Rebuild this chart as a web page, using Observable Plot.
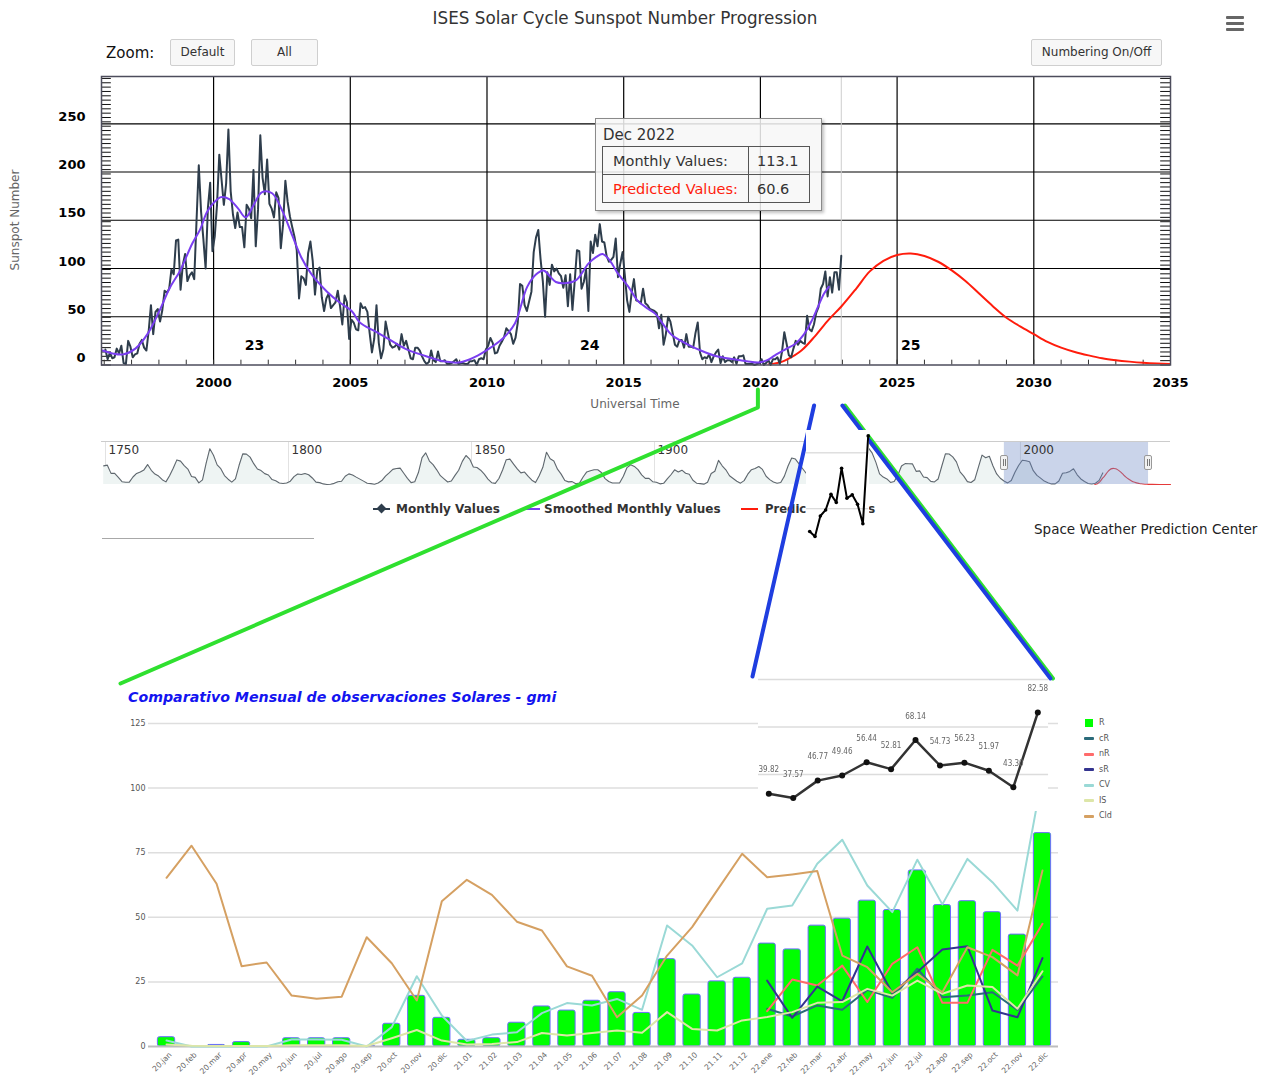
<!DOCTYPE html>
<html>
<head>
<meta charset="utf-8">
<script src="https://cdn.jsdelivr.net/npm/d3@7"></script>
<script src="https://cdn.jsdelivr.net/npm/@observablehq/plot@0.6"></script>
<style>
  body { margin: 0; background: #fff; }
  #page { position: relative; width: 1275px; height: 1077px; overflow: hidden; background: #fff;
          font-family: "DejaVu Sans", "Lucida Grande", sans-serif; }
  #page > div { position: absolute; }
  .btn { background: #f7f7f7; border: 1px solid #cfcfcf; border-radius: 2px; box-sizing: border-box;
         font-size: 12px; color: #333; text-align: center; line-height: 24px; }
  svg { overflow: visible; }
</style>
</head>
<body>
<div id="page"></div>
<script>
// ---------------- Sunspot data ----------------
// Monthly mean total sunspot number, Jan 1996 .. Dec 2022 (one row per year)
const monthlyStart = 1996;
const monthlySSN = [
  16, 6, 13, 7, 8, 17, 12, 20, 2, 1, 25, 19,
  8, 11, 12, 22, 26, 18, 15, 35, 62, 32, 55, 58,
  45, 57, 77, 75, 79, 99, 94, 129, 130, 78, 104, 115,
  87, 93, 96, 89, 149, 207, 159, 131, 100, 163, 189, 118,
  133, 166, 218, 192, 166, 188, 244, 180, 156, 142, 158, 143,
  143, 122, 166, 162, 152, 202, 123, 161, 238, 194, 177, 213,
  167, 162, 153, 179, 173, 121, 146, 191, 169, 154, 143, 133,
  119, 69, 92, 90, 83, 116, 128, 108, 73, 98, 101, 70,
  56, 69, 74, 59, 62, 65, 77, 61, 42, 72, 65, 27,
  47, 44, 37, 36, 64, 59, 60, 55, 33, 13, 27, 62,
  23, 7, 16, 45, 33, 21, 18, 19, 22, 16, 32, 20,
  25, 16, 7, 6, 18, 18, 15, 9, 4, 1, 3, 15,
  5, 3, 14, 4, 4, 5, 1, 1, 2, 4, 6, 1,
  2, 2, 1, 1, 4, 4, 5, 0, 6, 7, 6, 16,
  20, 28, 23, 12, 13, 20, 24, 29, 38, 35, 32, 22,
  28, 44, 84, 82, 62, 56, 66, 76, 117, 132, 140, 110,
  87, 50, 96, 83, 104, 97, 100, 95, 92, 80, 93, 61,
  94, 57, 87, 119, 118, 79, 86, 99, 56, 128, 116, 135,
  123, 146, 128, 127, 113, 107, 109, 112, 131, 91, 105, 117,
  93, 67, 55, 75, 89, 67, 66, 64, 79, 64, 62, 58,
  57, 56, 54, 38, 52, 21, 32, 50, 45, 33, 21, 19,
  26, 26, 18, 32, 19, 19, 18, 33, 44, 13, 6, 8,
  7, 11, 3, 9, 13, 16, 2, 9, 3, 5, 5, 3,
  8, 1, 9, 9, 10, 1, 1, 1, 1, 0, 1, 2,
  6, 0, 2, 5, 0, 6, 6, 8, 1, 14, 34, 22,
  10, 8, 17, 25, 21, 25, 23, 22, 51, 37, 35, 42,
  54, 60, 79, 84, 97, 71, 91, 75, 96, 96, 78, 113.1
];

// 13-month smoothed sunspot number [decimal year, value]
const smoothedSSN = [
  [1995.94, 15], [1996.3, 12], [1996.69, 11], [1997.14, 17], [1997.58, 32], [1998.0, 55],
  [1998.4, 80], [1998.78, 98], [1999.22, 126], [1999.5, 140], [1999.75, 158], [2000.0, 168],
  [2000.27, 174], [2000.57, 172], [2000.9, 162], [2001.17, 153], [2001.45, 165], [2001.76, 179],
  [2002.14, 178], [2002.51, 160], [2002.88, 134], [2003.2, 112], [2003.56, 95], [2004.15, 76],
  [2004.6, 65], [2005.05, 56], [2005.35, 44], [2005.9, 35], [2006.39, 27], [2007.0, 17],
  [2007.45, 12], [2007.89, 8], [2008.3, 4.5], [2008.63, 3], [2008.95, 2.5], [2009.38, 6],
  [2009.8, 12], [2010.13, 18], [2010.6, 28], [2011.02, 43], [2011.47, 81], [2011.8, 94],
  [2012.07, 98], [2012.3, 92], [2012.52, 86], [2012.9, 85], [2013.26, 88], [2013.71, 105],
  [2014.0, 112], [2014.23, 115], [2014.5, 108], [2014.76, 96], [2015.2, 80], [2015.5, 67],
  [2015.9, 58], [2016.16, 53], [2016.5, 40], [2016.76, 31], [2017.3, 22], [2017.82, 15],
  [2018.4, 9], [2019.02, 6], [2019.5, 4], [2019.93, 2.5], [2020.25, 5], [2020.53, 10],
  [2020.9, 16], [2021.28, 22], [2021.6, 32], [2021.88, 46], [2022.1, 60], [2022.33, 74],
  [2022.5, 81]
];

// Cycle 25 prediction [decimal year, value]
const predictedSSN = [
  [2020.3, 0.5], [2020.75, 3], [2021.0, 6], [2021.5, 15], [2022.0, 30], [2022.5, 47],
  [2022.96, 60.6], [2023.5, 79], [2024.0, 97], [2024.5, 108], [2025.0, 114], [2025.5, 115.5],
  [2026.0, 113], [2026.5, 107], [2027.0, 98], [2027.5, 87], [2028.0, 74], [2028.5, 61],
  [2029.0, 49], [2029.5, 40], [2030.0, 32], [2030.5, 24], [2031.0, 18], [2031.5, 13.5],
  [2032.0, 10], [2032.5, 7], [2033.0, 5], [2033.5, 3.5], [2034.0, 2.3], [2034.5, 1.5],
  [2035.0, 1], [2036.0, 0.6], [2038.0, 0.3], [2041.0, 0.1]
];

// Yearly mean sunspot number 1749 .. 2022 (navigator overview)
const yearlyStart = 1749;
const yearlySSN = [
  134.0, 139.0, 79.8, 79.7, 51.2, 20.3, 16.0, 17.0, 54.0, 79.3, 90.0,
  104.8, 143.2, 102.0, 75.2, 60.7, 34.8, 19.0, 63.0, 116.3, 176.8,
  168.0, 136.0, 110.8, 58.0, 51.0, 11.7, 33.0, 154.2, 257.3, 209.8,
  141.3, 113.5, 64.2, 38.0, 17.0, 40.2, 138.2, 220.0, 218.2, 196.8,
  149.8, 111.0, 100.0, 78.2, 68.3, 35.5, 26.7, 10.7, 6.8, 11.3,
  24.2, 56.7, 75.0, 71.8, 79.2, 70.3, 46.8, 16.8, 13.5, 4.2,
  0.0, 2.3, 8.3, 20.3, 23.2, 59.0, 76.3, 68.3, 52.9, 38.5,
  24.2, 9.2, 6.3, 2.2, 11.4, 28.2, 59.9, 83.0, 108.5, 115.2,
  117.4, 80.8, 44.3, 13.4, 19.5, 85.8, 192.7, 227.3, 168.7, 143.0,
  105.5, 63.3, 40.3, 18.1, 25.1, 65.8, 102.7, 166.3, 208.3, 182.5,
  126.3, 122.0, 102.7, 74.1, 39.0, 12.7, 8.2, 43.4, 104.4, 178.3,
  182.2, 146.6, 112.1, 83.5, 89.2, 57.8, 30.7, 13.9, 62.8, 123.6,
  232.0, 185.3, 169.2, 110.1, 74.5, 28.3, 18.9, 20.7, 5.7, 10.0,
  53.7, 90.5, 99.0, 106.1, 105.8, 86.3, 42.4, 21.8, 11.2, 10.4,
  11.8, 59.5, 121.7, 142.0, 130.0, 106.6, 69.4, 43.8, 44.4, 20.2,
  15.7, 4.6, 8.5, 40.8, 70.1, 105.5, 90.1, 102.8, 80.9, 73.2,
  30.9, 9.5, 6.0, 2.4, 16.1, 79.0, 95.0, 173.6, 134.6, 105.7,
  62.7, 43.5, 23.7, 9.7, 27.9, 74.0, 106.5, 114.7, 129.7, 108.2,
  59.4, 35.1, 18.6, 9.2, 14.6, 60.2, 132.8, 190.6, 182.6, 148.0,
  113.0, 79.2, 50.8, 27.1, 16.1, 55.3, 154.3, 214.7, 193.0, 190.7,
  118.9, 98.3, 45.0, 20.1, 6.6, 54.2, 200.7, 269.3, 261.7, 225.1,
  159.0, 76.4, 53.4, 39.9, 15.0, 22.0, 66.8, 132.9, 150.0, 149.4,
  148.0, 94.4, 97.6, 54.1, 49.2, 22.5, 18.4, 39.3, 131.0, 220.1,
  218.9, 198.9, 162.4, 91.0, 60.5, 20.6, 14.8, 33.9, 123.0, 211.1,
  191.8, 203.3, 133.0, 76.1, 44.9, 25.1, 11.6, 28.9, 88.3, 136.3,
  173.9, 170.4, 163.6, 99.3, 65.3, 45.8, 24.7, 12.6, 4.2, 4.8,
  24.9, 80.8, 84.5, 94.0, 113.3, 69.8, 39.8, 21.7, 7.0, 3.6,
  8.8, 29.6, 83.2
];

const topXTicks = [2000, 2005, 2010, 2015, 2020, 2025, 2030, 2035];
const topYTicks = [0, 50, 100, 150, 200, 250];
const cycleLabels = [
  {n: "23", year: 2001.5, v: 20},
  {n: "24", year: 2013.76, v: 20},
  {n: "25", year: 2025.5, v: 20}
];
const tooltipMonth = 2022.958;           // Dec 2022
const tooltipTitle = "Dec 2022";
const tooltipMonthly = 113.1;
const tooltipPredicted = 60.6;

const navGridYears = [1750, 1800, 1850, 1900, 1950, 2000];
const navLabelYears = [1750, 1800, 1850, 1900, 2000];
const navWindow = {from: 1995.6, to: 2035};

// ---------------- Monthly observation data (gmi) ----------------
const gmiMonths = [
  "20.jan", "20.feb", "20.mar", "20.apr", "20.may", "20.jun", "20.jul", "20.ago", "20.sep", "20.oct", "20.nov", "20.dic",
  "21.01", "21.02", "21.03", "21.04", "21.05", "21.06", "21.07", "21.08", "21.09", "21.10", "21.11", "21.12",
  "22.ene", "22.feb", "22.mar", "22.abr", "22.may", "22.jun", "22.jul", "22.ago", "22.sep", "22.oct", "22.nov", "22.dic"
];
const gmiR = [
  3.6, 0, 0.6, 1.7, 0, 3.2, 3.2, 3.2, 0.2, 8.8, 19.6, 11.1,
  2.6, 3.2, 9.2, 15.5, 13.9, 17.7, 21.0, 13.0, 33.8, 20.1, 25.2, 26.6,
  39.82, 37.57, 46.77, 49.46, 56.44, 52.81, 68.14, 54.73, 56.23, 51.97, 43.30, 82.58
];
const gmiCV = [
  2.3, 0, 0, 0, 0, 2.7, 2.7, 2.6, 0, 7.5, 27.2, 12.0,
  2.1, 4.6, 5.5, 12.9, 16.8, 15.9, 18.4, 14.2, 46.8, 39.1, 26.8, 32.2,
  53.3, 54.6, 70.7, 80.0, 62.3, 52.0, 72.3, 55.0, 72.6, 63.6, 52.6, 105
];
const gmiIS = [
  0.8, 0.3, 0.2, 0.2, 0.2, 0.5, 0.5, 0.5, 0.2, 3.2, 6.4, 2.3,
  0.8, 1.0, 1.7, 5.2, 4.3, 5.2, 6.2, 5.3, 13.3, 6.8, 6.2, 10.1,
  11.4, 13.3, 16.9, 17.2, 22.3, 19.7, 25.5, 20.4, 23.6, 23.0, 14.6, 29.1
];
const gmiCld = [
  65.3, 77.7, 63.0, 31.1, 32.5, 19.7, 18.5, 19.3, 42.3, 32.2, 17.8, 56.2,
  64.5, 58.7, 48.3, 44.9, 31.0, 27.4, 11.3, 19.7, 35.2, 46.2, 60.4, 74.6,
  65.5, 66.6, 67.9, 35.2, 30.7, 21.0, 28.1, 21.0, 38.4, 34.6, 27.5, 68.1
];
// cR, nR, sR are only recorded from 22.ene on
const gmiSplitStart = 24;
const gmiCR2022 = [14.6, 11.6, 15.9, 14.2, 21.9, 18.8, 30.1, 19.1, 19.7, 21.0, 14.2, 27.1];
const gmiNR2022 = [13.7, 25.9, 23.6, 31.3, 17.2, 32.0, 38.4, 16.9, 16.9, 37.4, 31.3, 47.5];
const gmiSR2022 = [25.5, 11.1, 23.2, 17.5, 38.7, 20.6, 28.8, 37.5, 38.8, 13.9, 11.3, 34.2];
const gmiYTicks = [0, 25, 50, 75, 100, 125];
const gmiSeries = [
  {name: "R", color: "#00ff00", swatch: "square"},
  {name: "cR", color: "#2b6b7a"},
  {name: "nR", color: "#ff6b6b"},
  {name: "sR", color: "#34348f"},
  {name: "CV", color: "#9ad9d6"},
  {name: "IS", color: "#dde6a8"},
  {name: "Cld", color: "#d5a062"}
];
const colorOf = Object.fromEntries(gmiSeries.map(s => [s.name, s.color]));

// ---------------- helpers ----------------
const UI = '"DejaVu Sans", "Lucida Grande", sans-serif';
const page = document.getElementById("page");

function put(node, left, top, extra = "") {
  const wrap = document.createElement("div");
  wrap.style.cssText = `left:${left}px;top:${top}px;${extra}`;
  wrap.appendChild(node);
  page.appendChild(wrap);
  return wrap;
}
function label(text, {x, y, size = 12, weight = "normal", color = "#333", anchor = "start", family = UI, fstyle = "normal"}) {
  const d = document.createElement("div");
  d.textContent = text;
  d.style.cssText = `white-space:nowrap;font-family:${family};font-size:${size}px;font-weight:${weight};` +
    `font-style:${fstyle};color:${color};line-height:${Math.round(size * 1.2)}px;top:${y - Math.round(size * 1.2) / 2}px;`;
  if (anchor === "middle") { d.style.left = x + "px"; d.style.transform = "translateX(-50%)"; }
  else if (anchor === "end") { d.style.right = (1275 - x) + "px"; }
  else d.style.left = x + "px";
  page.appendChild(d);
  return d;
}
function box(left, top, width, height, css) {
  const d = document.createElement("div");
  d.style.cssText = `left:${left}px;top:${top}px;width:${width}px;height:${height}px;${css}`;
  page.appendChild(d);
  return d;
}
function button(text, left, width) {
  const b = box(left, 39, width, 27, "");
  b.className = "btn";
  b.textContent = text;
}

// ---------------- header ----------------
label("ISES Solar Cycle Sunspot Number Progression", {x: 625, y: 18, size: 16.8, anchor: "middle", color: "#333"});
[16, 22, 28].forEach(t => box(1226, t, 18, 3, "background:#666;border-radius:1px;"));
label("Zoom:", {x: 106, y: 53, size: 15, color: "#111"});
button("Default", 170, 65);
button("All", 251, 67);
button("Numbering On/Off", 1031, 131);

// ---------------- main sunspot chart ----------------
const monthlyRows = monthlySSN.map((v, i) => ({t: monthlyStart + (i + 0.5) / 12, v}));
const smoothRows = smoothedSSN.map(([t, v]) => ({t, v}));
const predRows = predictedSSN.map(([t, v]) => ({t, v}));
const topDomain = [1995.9, 2035];
const minorStep = 4.5;
const yMinor = d3.range(0, 299, minorStep);
const xMinor = d3.range(1996, 2035);

const topPlot = Plot.plot({
  width: 1275, height: 420,
  marginLeft: 101, marginRight: 105, marginTop: 76, marginBottom: 55.5,
  x: {domain: topDomain, axis: null},
  y: {domain: [0, 299], axis: null},
  style: {background: "transparent", fontFamily: UI, overflow: "visible"},
  marks: [
    Plot.ruleX(topXTicks.filter(d => d < 2035), {stroke: "#000", strokeWidth: 1.2}),
    Plot.ruleY(topYTicks.filter(d => d > 0), {stroke: "#000", strokeWidth: 1.2}),
    Plot.ruleY(yMinor, {x1: topDomain[0], x2: topDomain[0] + 0.36, stroke: "#111"}),
    Plot.ruleY(yMinor, {x1: topDomain[1] - 0.36, x2: topDomain[1], stroke: "#111"}),
    Plot.ruleX(xMinor, {y1: 0, y2: 5, stroke: "#333"}),
    Plot.ruleX([tooltipMonth], {stroke: "#cdcdcd"}),
    Plot.line(predRows, {x: "t", y: "v", stroke: "#ff1c0c", strokeWidth: 2, curve: "catmull-rom", clip: true}),
    Plot.line(monthlyRows, {x: "t", y: "v", stroke: "#2e3d4c", strokeWidth: 2}),
    Plot.line(smoothRows, {x: "t", y: "v", stroke: "#7a3ef0", strokeWidth: 2, curve: "catmull-rom"}),
    Plot.frame({stroke: "#4d4d5c", strokeWidth: 1.5}),
    Plot.text(topXTicks, {x: d => d, y: 0, dy: 18, text: d => String(d), fontSize: 13, fontWeight: "bold", fill: "#000"}),
    Plot.text(topYTicks, {x: topDomain[0], y: d => d, dx: -16, dy: -7, textAnchor: "end", text: d => String(d), fontSize: 13, fontWeight: "bold", fill: "#000"}),
    Plot.text(cycleLabels, {x: "year", y: "v", text: "n", fontSize: 14, fontWeight: "bold", fill: "#000"})
  ]
});
put(topPlot, 0, 0);

label("Universal Time", {x: 635, y: 404, size: 12, anchor: "middle", color: "#666"});
const yTitle = label("Sunspot Number", {x: 15, y: 220, size: 12, anchor: "middle", color: "#666"});
yTitle.style.transform = "translateX(-50%) rotate(-90deg)";

// tooltip for Dec 2022
const tip = box(595, 118, 227, 93,
  "background:rgba(247,247,247,0.86);border:1px solid #8a8a8a;box-sizing:border-box;box-shadow:2px 2px 3px rgba(0,0,0,0.25);");
tip.innerHTML =
  `<div style="position:absolute;left:7px;top:7px;font-size:15px;color:#333;">${tooltipTitle}</div>
   <table style="position:absolute;left:6px;top:27px;border-collapse:collapse;font-size:14.5px;color:#333;">
     <tr><td style="border:1px solid #555;padding:3px 6px 3px 10px;width:129px;height:21px;">Monthly Values:</td>
         <td style="border:1px solid #555;padding:3px 8px;width:44px;">${tooltipMonthly}</td></tr>
     <tr><td style="border:1px solid #555;padding:3px 6px 3px 10px;height:21px;color:#ff1c0c;">Predicted Values:</td>
         <td style="border:1px solid #555;padding:3px 8px;">${tooltipPredicted}</td></tr>
   </table>`;

// ---------------- navigator ----------------
const navRows = yearlySSN.map((v, i) => ({t: yearlyStart + i + 0.5, v}));
const navTop = 309;
const navPlot = Plot.plot({
  width: 1275, height: 52,
  marginLeft: 101, marginRight: 105, marginTop: 5, marginBottom: 4,
  x: {domain: [1748.9, 2041], axis: null},
  y: {domain: [0, navTop], axis: null},
  style: {background: "transparent", fontFamily: UI, overflow: "visible"},
  marks: [
    Plot.ruleX(navGridYears, {stroke: "#e2e2e2"}),
    Plot.areaY(navRows, {x: "t", y: "v", fill: "#eef4f3"}),
    Plot.line(navRows, {x: "t", y: "v", stroke: "#5f676e", strokeWidth: 1.1}),
    Plot.line(predRows, {x: "t", y: "v", stroke: "#e53a3a", strokeWidth: 1.1, curve: "catmull-rom"}),
    Plot.rect([navWindow], {x1: "from", x2: "to", y1: 0, y2: navTop, fill: "#6685c2", fillOpacity: 0.35}),
    Plot.ruleY([navTop], {stroke: "#cccccc"}),
    Plot.text(navLabelYears, {x: d => d, y: navTop, dx: 3, dy: 9, text: d => String(d), textAnchor: "start", fontSize: 12, fill: "#333"})
  ]
});
put(navPlot, 0, 436);
const navX = navPlot.scale("x");
[navWindow.from, navWindow.to].forEach(yr => {
  const h = box(Math.round(navX.apply(yr)) - 4, 455, 8, 15,
    "background:#f2f2f2;border:1px solid #999;border-radius:2px;box-sizing:border-box;");
  h.innerHTML = `<div style="position:absolute;left:2px;top:3px;width:1px;height:7px;background:#777"></div>
                 <div style="position:absolute;left:4px;top:3px;width:1px;height:7px;background:#777"></div>`;
});

// ---------------- legend of the sunspot chart ----------------
box(373, 508, 17, 2, "background:#2e3d4c;");
box(378, 505, 7, 7, "background:#2e3d4c;transform:rotate(45deg);");
label("Monthly Values", {x: 396, y: 509, size: 12, weight: "bold", color: "#333"});
box(522, 508, 18, 2, "background:#7a3ef0;");
label("Smoothed Monthly Values", {x: 544, y: 509, size: 12, weight: "bold", color: "#333"});
box(741, 508, 17, 2, "background:#ff1c0c;");
label("Predicted Values", {x: 765, y: 509, size: 11.6, weight: "bold", color: "#333"});

label("Space Weather Prediction Center", {x: 1034, y: 529, size: 13.5, color: "#222"});
box(102, 538, 212, 1, "background:#a8a8a8;");

// ---------------- gmi monthly comparison chart ----------------
const gmiRows = gmiMonths.map((m, i) => ({i, m, R: gmiR[i], CV: gmiCV[i], IS: gmiIS[i], Cld: gmiCld[i]}));
const splitRows = (vals) => vals.map((v, k) => ({i: gmiSplitStart + k, v}));
const seriesLine = (rows, key, width = 2) =>
  Plot.line(rows, {x: "i", y: key, stroke: colorOf[key], strokeWidth: width});

const gmiPlot = Plot.plot({
  width: 1275, height: 397,
  marginLeft: 148, marginRight: 217, marginTop: 43, marginBottom: 31,
  x: {domain: [-0.72, 35.64], axis: null},
  y: {domain: [0, 125], axis: null},
  style: {background: "transparent", fontFamily: '"Lucida Grande", "DejaVu Sans", sans-serif', overflow: "visible"},
  marks: [
    Plot.ruleY(gmiYTicks.filter(d => d > 0), {stroke: "#dedede", strokeWidth: 1.5}),
    Plot.rect(gmiRows, {x1: d => d.i - 0.345, x2: d => d.i + 0.345, y1: 0, y2: "R",
      fill: colorOf.R, stroke: "#6b6bff", strokeWidth: 1, rx: 2}),
    Plot.ruleY([0], {stroke: "#bdbdbd", strokeWidth: 2}),
    Plot.line(splitRows(gmiCR2022), {x: "i", y: "v", stroke: colorOf.cR, strokeWidth: 2}),
    Plot.line(splitRows(gmiNR2022), {x: "i", y: "v", stroke: colorOf.nR, strokeWidth: 2}),
    Plot.line(splitRows(gmiSR2022), {x: "i", y: "v", stroke: colorOf.sR, strokeWidth: 2}),
    seriesLine(gmiRows, "CV"),
    seriesLine(gmiRows, "IS"),
    seriesLine(gmiRows, "Cld"),
    Plot.text(gmiYTicks, {x: -0.72, y: d => d, dx: -3, textAnchor: "end", text: d => String(d), fontSize: 8, fill: "#555"}),
    Plot.text(gmiRows, {x: "i", y: 0, text: "m", rotate: -45, textAnchor: "end", dx: 4, dy: 7, fontSize: 7.6, fill: "#666"})
  ]
});
put(gmiPlot, 0, 680);

label("Comparativo Mensual de observaciones Solares - gmi",
  {x: 128, y: 697, size: 14.2, weight: "bold", fstyle: "italic", color: "#1414f0", family: '"DejaVu Sans", Verdana, sans-serif'});

gmiSeries.forEach((s, k) => {
  const cy = 723 + k * 15.5;
  if (s.swatch === "square") box(1085, cy - 4, 8, 8, `background:${s.color};`);
  else box(1084, cy - 1.5, 10, 3, `background:${s.color};border-radius:1px;`);
  label(s.name, {x: 1099, y: cy, size: 8, color: "#555"});
});

// ---------------- 2022 close-up of R (large) ----------------
const closeRows = gmiR.slice(gmiSplitStart).map((v, k) => ({k, v}));
const closeBig = Plot.plot({
  width: 290, height: 135,
  marginLeft: 10.3, marginRight: 10.7, marginTop: 0, marginBottom: 0,
  x: {domain: [0, 11], axis: null},
  y: {domain: [30.5, 101.6], axis: null},
  style: {background: "#fff", overflow: "visible"},
  marks: [
    Plot.ruleY([50, 75, 100], {x1: -0.42, x2: 11.44, stroke: "#dcdcdc", strokeWidth: 1.5}),
    Plot.line(closeRows, {x: "k", y: "v", stroke: "#333", strokeWidth: 2.5}),
    Plot.dot(closeRows, {x: "k", y: "v", r: 3, fill: "#111"}),
    Plot.text(closeRows, {x: "k", y: "v", dy: -24, text: d => d.v.toFixed(2), fontSize: 8, fill: "#666",
      fontFamily: '"Liberation Sans Narrow", "DejaVu Sans Condensed", sans-serif'})
  ]
});
put(closeBig, 758, 676, "filter:blur(0.5px);");

// ---------------- callout lines ----------------
const xTop = topPlot.scale("x");
const greenCallout = [[xTop.apply(2020) - 2.5, 389], [xTop.apply(2020) - 2.5, 407], [120, 683]];
const blueLeftCallout = [[xTop.apply(2022) - 1, 405], [752, 676]];
const blueRightCallout = [[xTop.apply(2023), 405], [1050, 678]];
const greenRightCallout = blueRightCallout.map(([x, y]) => [x + 2.5, y]);
const overlay = Plot.plot({
  width: 1275, height: 1077, margin: 0,
  x: {domain: [0, 1275], range: [0, 1275], axis: null},
  y: {domain: [0, 1077], range: [0, 1077], axis: null},
  style: {background: "transparent", overflow: "visible"},
  marks: [
    Plot.line(greenCallout, {stroke: "#2fe02f", strokeWidth: 4}),
    Plot.line(greenRightCallout, {stroke: "#2fe02f", strokeWidth: 4}),
    Plot.line(blueLeftCallout, {stroke: "#1f3ee0", strokeWidth: 4}),
    Plot.line(blueRightCallout, {stroke: "#1f3ee0", strokeWidth: 4})
  ]
});
put(overlay, 0, 0, "pointer-events:none;");

// ---------------- 2022 close-up of R (small) ----------------
const closeSmall = Plot.plot({
  width: 63, height: 110,
  marginLeft: 3.2, marginRight: 1.3, marginTop: 0, marginBottom: 0,
  x: {domain: [0, 11], axis: null},
  y: {domain: [35.8, 85.0], axis: null},
  style: {background: "#fff", overflow: "visible"},
  marks: [
    Plot.ruleY([50, 75], {x1: -0.6, x2: 11.1, stroke: "#cfcfcf"}),
    Plot.line(closeRows, {x: "k", y: "v", stroke: "#000", strokeWidth: 2}),
    Plot.dot(closeRows, {x: "k", y: "v", r: 1.8, fill: "#000"})
  ]
});
put(closeSmall, 805.5, 430);
</script>
</body>
</html>
